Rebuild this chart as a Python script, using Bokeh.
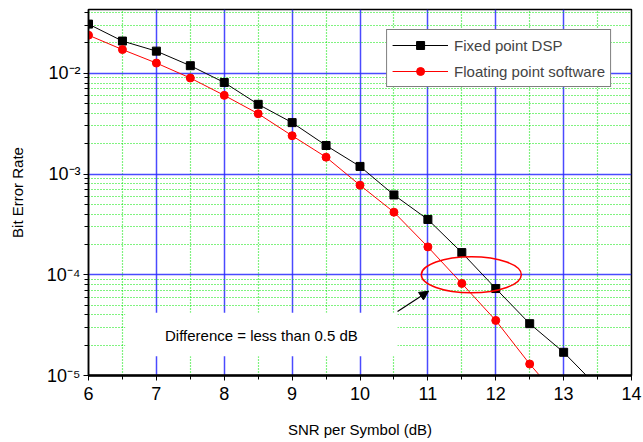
from bokeh.plotting import figure
from bokeh.models import (Range1d, FixedTicker, Legend, LegendItem, Arrow, NormalHead)
from bokeh.core.properties import value
from bokeh.embed import file_html
from bokeh.resources import INLINE

# ---- data ----
snr_fixed = [6, 6.5, 7, 7.5, 8, 8.5, 9, 9.5, 10, 10.5, 11, 11.5, 12, 12.5, 13, 13.5]
ber_fixed = [0.0308, 0.0209, 0.0166, 0.0119, 0.0081, 0.00492, 0.00324, 0.00192,
             0.00119, 6.2e-4, 3.54e-4, 1.66e-4, 7.3e-5, 3.27e-5, 1.7e-5, 7.7e-6]
snr_float = [6, 6.5, 7, 7.5, 8, 8.5, 9, 9.5, 10, 10.5, 11, 11.5, 12, 12.5, 13]
ber_float = [0.0239, 0.0172, 0.01264, 0.00898, 0.00604, 0.00397, 0.0024, 0.00147,
             7.75e-4, 4.18e-4, 1.89e-4, 8.2e-5, 3.52e-5, 1.30e-5, 5.3e-6]

x_ticks = [6, 7, 8, 9, 10, 11, 12, 13, 14]
x_minor = [6.5, 7.5, 8.5, 9.5, 10.5, 11.5, 12.5, 13.5]
y_ticks = [1e-5, 1e-4, 1e-3, 1e-2]
y_tick_labels = ["10\u207b\u2075", "10\u207b\u2074", "10\u207b\u00b3", "10\u207b\u00b2"]
y_minor = [m * 10.0 ** e for e in (-5, -4, -3, -2) for m in range(2, 10)]

series_names = ["Fixed point DSP", "Floating point software"]
note_text = "Difference = less than 0.5 dB"

FONT = "Liberation Sans"

p = figure(width=643, height=442, y_axis_type="log",
           x_range=Range1d(6, 14), y_range=Range1d(1e-5, 0.043),
           output_backend="svg", toolbar_location=None,
           min_border_left=88, min_border_right=12, min_border_top=9, min_border_bottom=67)
p.background_fill_color = "white"
p.border_fill_color = "white"
p.outline_line_color = "black"
p.outline_line_width = 1.5

# axes
p.xaxis.ticker = FixedTicker(ticks=x_ticks, minor_ticks=x_minor)
p.yaxis.ticker = FixedTicker(ticks=y_ticks, minor_ticks=y_minor)
p.yaxis.major_label_overrides = dict(zip(y_ticks, y_tick_labels))
for ax in (p.xaxis, p.yaxis):
    ax.axis_line_color = "black"
    ax.major_tick_line_color = "black"
    ax.minor_tick_line_color = "black"
    ax.major_tick_in = 0
    ax.major_tick_out = 5
    ax.minor_tick_in = 0
    ax.minor_tick_out = 4
    ax.major_label_text_font = FONT
    ax.major_label_text_color = "black"
    ax.axis_label_text_font = FONT
    ax.axis_label_text_font_style = "normal"
    ax.axis_label_text_color = "black"
p.xaxis.axis_line_width = 2.5
p.yaxis.axis_line_width = 1.5
p.xaxis.major_label_text_font_size = "18px"
p.yaxis.major_label_text_font_size = "18px"
p.xaxis.major_label_standoff = 6
p.yaxis.major_label_standoff = 3
p.xaxis.axis_label = "SNR per Symbol (dB)"
p.yaxis.axis_label = "Bit Error Rate"
p.xaxis.axis_label_text_font_size = "15px"
p.yaxis.axis_label_text_font_size = "15px"
p.xaxis.axis_label_standoff = 18
p.yaxis.axis_label_standoff = 18

# grids
for g in (p.xgrid, p.ygrid):
    g.grid_line_color = "#2a2aff"
    g.grid_line_alpha = 0.85
    g.grid_line_width = 1.5
    g.minor_grid_line_color = "#00e600"
    g.minor_grid_line_dash = "1 2"
    g.minor_grid_line_width = 1.2

# white box behind the annotation text
p.quad(left=[6.54], right=[10.553], bottom=[1.55e-5], top=[4.2e-5],
       fill_color="white", line_color=None)

# data
l1 = p.line(snr_fixed, ber_fixed, line_color="black", line_width=1)
s1 = p.scatter(snr_fixed, ber_fixed, marker="square", size=8,
               fill_color="black", line_color="black")
l2 = p.line(snr_float, ber_float, line_color="red", line_width=1)
s2 = p.scatter(snr_float, ber_float, marker="circle", size=8,
               fill_color="red", line_color="red")

# annotations
p.ellipse(x=[11.64], y=[1e-4], width=100, height=36,
          width_units="screen", height_units="screen",
          fill_color=None, line_color="red", line_width=1.5)
p.add_layout(Arrow(end=NormalHead(size=9, fill_color="black", line_color="black"),
                   x_start=10.553, y_start=4.33e-5, x_end=11.01, y_end=6.86e-5,
                   line_color="black", line_width=1.2))
p.text(x=[8.547], y=[2.5e-5], text=[note_text], text_font=value(FONT),
       text_font_size="15px", text_align="center", text_baseline="middle",
       text_color="black")

legend = Legend(items=[LegendItem(label=series_names[0], renderers=[l1, s1]),
                       LegendItem(label=series_names[1], renderers=[l2, s2])],
                location="top_right", margin=20, padding=5, spacing=6,
                glyph_width=56, glyph_height=20, label_height=20, label_standoff=6,
                label_width=150,
                label_text_font=FONT, label_text_font_size="15px",
                border_line_color="black", border_line_width=1.2,
                background_fill_color="white", background_fill_alpha=1.0)
p.add_layout(legend, "center")

open("out.html", "w").write(file_html(p, INLINE))
